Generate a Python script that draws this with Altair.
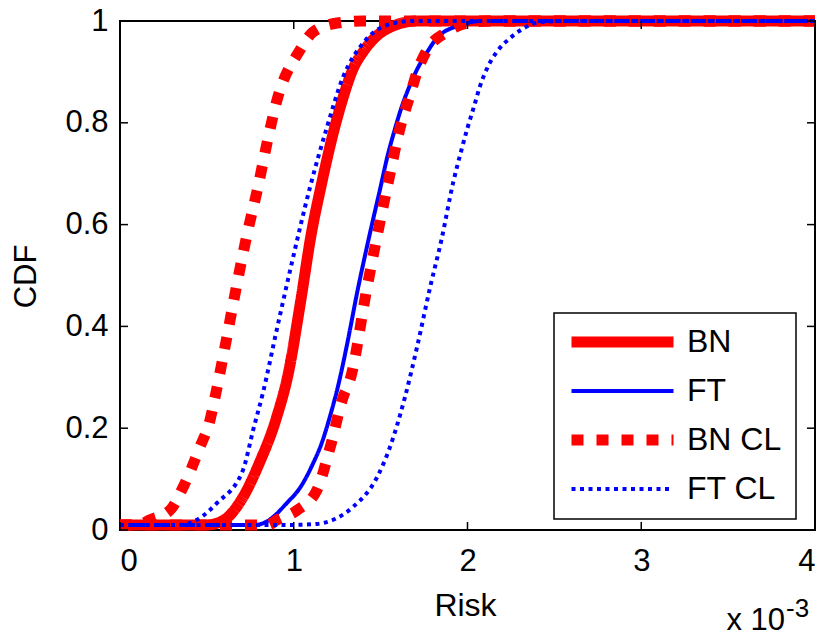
import altair as alt
import pandas as pd

# ---- data (risk in units of 1e-3, CDF) ----
bn_x = [0, 0.5, 0.6, 0.7, 0.8, 0.9, 0.97, 1.04, 1.10, 1.16, 1.22, 1.28, 1.34, 1.40, 1.46, 1.57, 1.71, 4.0]
bn_y = [0.01, 0.01, 0.02, 0.06, 0.13, 0.22, 0.31, 0.45, 0.58, 0.68, 0.77, 0.845, 0.905, 0.94, 0.965, 0.99, 1.0, 1.0]

ft_x = [0, 0.78, 0.86, 0.96, 1.04, 1.11, 1.16, 1.21, 1.26, 1.31, 1.364, 1.43, 1.497, 1.54, 1.58, 1.62, 1.67, 1.71, 1.77, 1.825, 1.96, 2.08, 4.0]
ft_y = [0.01, 0.01, 0.02, 0.053, 0.085, 0.13, 0.17, 0.225, 0.29, 0.37, 0.465, 0.57, 0.67, 0.735, 0.785, 0.83, 0.875, 0.905, 0.94, 0.967, 0.992, 1.0, 1.0]

bncl_lo_x = [0, 0.1, 0.173, 0.288, 0.363, 0.46, 0.518, 0.547, 0.61, 0.674, 0.734, 0.794, 0.846, 0.904, 1.036, 1.11, 1.25, 1.4, 4.0]
bncl_lo_y = [0.01, 0.01, 0.02, 0.039, 0.084, 0.163, 0.216, 0.261, 0.37, 0.485, 0.585, 0.674, 0.76, 0.845, 0.943, 0.978, 0.996, 1.0, 1.0]

bncl_hi_x = [0, 0.85, 0.904, 1.02, 1.134, 1.21, 1.284, 1.324, 1.422, 1.543, 1.612, 1.67, 1.71, 1.767, 1.88, 2.0, 2.12, 4.0]
bncl_hi_y = [0.01, 0.01, 0.02, 0.039, 0.079, 0.163, 0.261, 0.295, 0.477, 0.682, 0.79, 0.855, 0.9, 0.943, 0.978, 0.996, 1.0, 1.0]

ftcl_lo_x = [0, 0.35, 0.443, 0.558, 0.708, 0.766, 0.823, 0.9, 0.979, 1.094, 1.19, 1.284, 1.40, 1.537, 1.68, 4.0]
ftcl_lo_y = [0.01, 0.01, 0.02, 0.053, 0.118, 0.196, 0.27, 0.39, 0.51, 0.674, 0.79, 0.89, 0.957, 0.992, 1.0, 1.0]

ftcl_hi_x = [0, 1.0, 1.134, 1.24, 1.34, 1.48, 1.554, 1.64, 1.71, 1.785, 1.85, 1.917, 1.96, 2.0, 2.04, 2.07, 2.11, 2.17, 2.24, 2.32, 2.42, 2.55, 4.0]
ftcl_hi_y = [0.01, 0.01, 0.012, 0.022, 0.045, 0.104, 0.163, 0.261, 0.36, 0.477, 0.57, 0.682, 0.74, 0.79, 0.835, 0.87, 0.905, 0.94, 0.965, 0.985, 0.998, 1.0, 1.0]

x_ticks = [0, 1, 2, 3, 4]
y_ticks = [0, 0.2, 0.4, 0.6, 0.8, 1.0]

series_names = ["BN", "FT", "BN CL", "FT CL"]
series_colors = ["#ff0000", "#0000ff", "#ff0000", "#0000ff"]
series_widths = [11, 4, 11, 4]
series_dashes = [[1, 0], [1, 0], [12, 13], [4, 4.5]]

FONT = "Liberation Sans"
W, H = 695, 509

rows = []
def add(series, curve, xs, ys):
    for i, (a, b) in enumerate(zip(xs, ys)):
        rows.append({"series": series, "curve": curve, "risk": a, "cdf": b, "i": i})

add("BN", "bn", bn_x, bn_y)
add("FT", "ft", ft_x, ft_y)
add("BN CL", "bncl_lo", bncl_lo_x, bncl_lo_y)
add("BN CL", "bncl_hi", bncl_hi_x, bncl_hi_y)
add("FT CL", "ftcl_lo", ftcl_lo_x, ftcl_lo_y)
add("FT CL", "ftcl_hi", ftcl_hi_x, ftcl_hi_y)
df = pd.DataFrame(rows)

xscale = alt.Scale(domain=[0, 4], nice=False, zero=False)
yscale = alt.Scale(domain=[0, 1], nice=False, zero=False)

legend = alt.Legend(
    title=None, orient="none", legendX=434, legendY=292,
    padding=14, clipHeight=30, rowPadding=17,
    symbolType="stroke", symbolSize=10404, symbolOffset=-2,
    labelOffset=8, labelFontSize=32, labelFont=FONT, labelColor="black",
    strokeColor="black", fillColor="white",
)

lines = alt.Chart(df).mark_line(interpolate="monotone", strokeCap="butt").encode(
    x=alt.X("risk:Q", scale=xscale,
            axis=alt.Axis(values=x_ticks, format="d", title="Risk", grid=False, ticks=False,
                          domain=False, labelFontSize=31, labelFont=FONT, labelColor="black",
                          labelBaseline="alphabetic", labelPadding=40,
                          titleFontSize=32, titleFont=FONT, titleFontWeight="normal",
                          titleColor="black", titleX=345, titleY=85,
                          titleBaseline="alphabetic", titleAlign="center")),
    y=alt.Y("cdf:Q", scale=yscale,
            axis=alt.Axis(values=y_ticks, format="~g", title="CDF", grid=False, ticks=False,
                          domain=False, labelFontSize=31, labelFont=FONT, labelColor="black",
                          labelPadding=12,
                          titleFontSize=31, titleFont=FONT, titleFontWeight="normal",
                          titleColor="black", titleX=-94, titleY=255, titleAngle=270,
                          titleBaseline="middle", titleAlign="center")),
    color=alt.Color("series:N", scale=alt.Scale(domain=series_names, range=series_colors), legend=legend),
    strokeDash=alt.StrokeDash("series:N", scale=alt.Scale(domain=series_names, range=series_dashes), legend=legend),
    strokeWidth=alt.StrokeWidth("series:N", scale=alt.Scale(type="ordinal", domain=series_names, range=series_widths), legend=legend),
    detail="curve:N",
    order="i:Q",
)

xt = pd.DataFrame({"risk": x_ticks})
yt = pd.DataFrame({"cdf": y_ticks})
tick_style = dict(color="black", strokeWidth=1.5)

bottom_ticks = alt.Chart(xt).mark_rule(**tick_style).encode(
    x=alt.X("risk:Q", scale=xscale), y=alt.value(H), y2=alt.value(H - 8))
top_ticks = alt.Chart(xt).mark_rule(**tick_style).encode(
    x=alt.X("risk:Q", scale=xscale), y=alt.value(0), y2=alt.value(8))
left_ticks = alt.Chart(yt).mark_rule(**tick_style).encode(
    y=alt.Y("cdf:Q", scale=yscale), x=alt.value(0), x2=alt.value(8))
right_ticks = alt.Chart(yt).mark_rule(**tick_style).encode(
    y=alt.Y("cdf:Q", scale=yscale), x=alt.value(W), x2=alt.value(W - 8))

exp_base = alt.Chart(pd.DataFrame({"t": ["x 10"]})).mark_text(
    font=FONT, fontSize=31, color="black", align="right", baseline="alphabetic"
).encode(text="t:N", x=alt.value(665), y=alt.value(609))
exp_sup = alt.Chart(pd.DataFrame({"t": ["-3"]})).mark_text(
    font=FONT, fontSize=26, color="black", align="left", baseline="alphabetic"
).encode(text="t:N", x=alt.value(666), y=alt.value(596))

chart = alt.layer(
    lines, bottom_ticks, top_ticks, left_ticks, right_ticks, exp_base, exp_sup
).properties(
    width=W, height=H,
    autosize=alt.AutoSizeParams(type="none"),
    padding={"left": 120, "top": 21, "right": 15, "bottom": 106},
    background="white",
).configure_view(
    stroke="black", strokeWidth=2
).configure_legend(
    strokeWidth=1.5
)

chart.save("out.html", embed_options={"renderer": "svg", "actions": False})
